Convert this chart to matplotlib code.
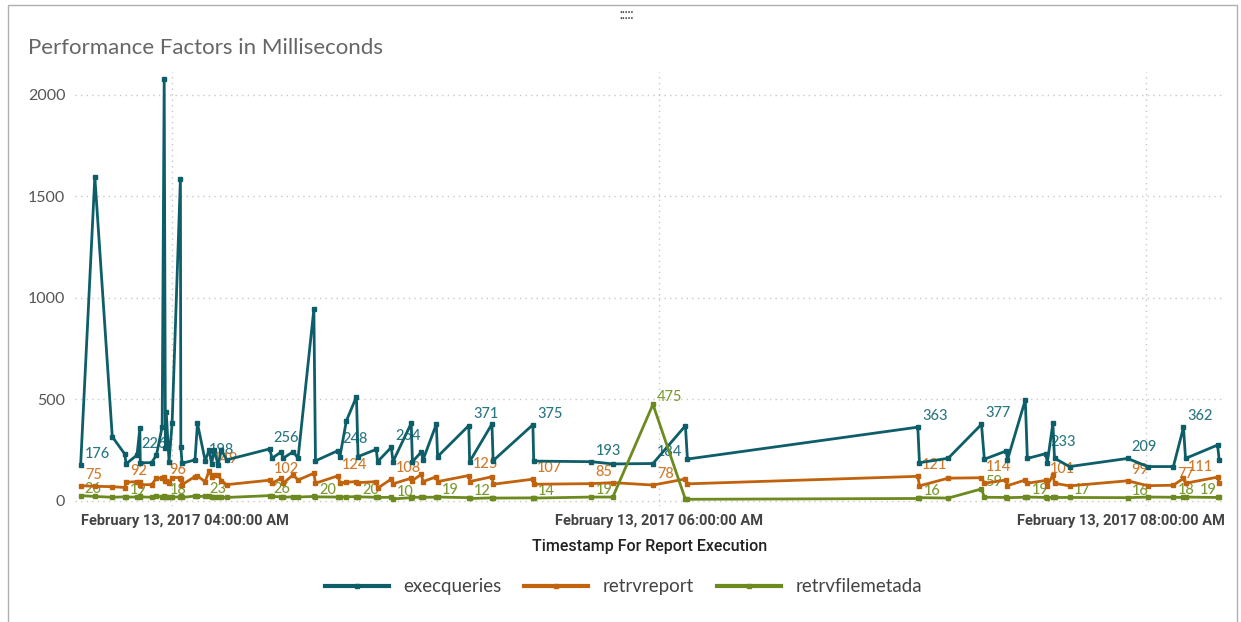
import datetime as dt
import matplotlib
matplotlib.use("Agg")
import matplotlib.pyplot as plt
import matplotlib.dates as mdates
from matplotlib.patches import Rectangle
from matplotlib.transforms import ScaledTranslation

plt.rcParams["font.family"] = ["Lato", "DejaVu Sans"]

# minutes after 04:00 on Feb 13, 2017
minutes = [-22.6, -19.1, -14.8, -11.7, -11.4, -8.7, -8.0, -7.9, -5.1, -3.9, -2.5, -2.0, -1.7, -1.5,
           -0.8, -0.05, 2.0, 2.1, 2.4, 5.6, 6.2, 8.1, 9.1, 9.7, 10.3, 11.3, 12.1, 13.4,
           24.0, 24.6, 26.9, 27.3, 29.8, 31.0, 34.9, 35.3, 40.9, 41.3, 42.9, 45.4, 45.8, 50.3,
           50.6, 54.0, 54.4, 58.9, 59.2, 61.4, 61.8, 65.1, 65.4, 73.1, 73.3, 78.8, 79.1, 88.9,
           89.1, 103.3, 108.6, 118.5, 126.5, 127.0,
           183.8, 184.2, 191.3, 199.5, 200.2, 205.6, 205.9, 210.3, 210.8, 215.4, 215.7, 217.1,
           217.5, 221.2, 235.5, 240.5, 246.8, 249.3, 249.8, 257.7, 258.1]

execqueries = [176, 1595, 316, 230, 182, 226, 357, 188, 188, 226, 365, 2078, 261, 439,
               193, 382, 1585, 267, 185, 202, 382, 198, 251, 180, 251, 177, 251, 202,
               256, 210, 242, 210, 242, 210, 943, 197, 248, 215, 393, 513, 218, 254,
               193, 264, 193, 382, 193, 241, 201, 378, 218, 371, 193, 378, 198, 375,
               196, 193, 182, 184, 370, 206,
               363, 188, 210, 377, 205, 246, 202, 497, 209, 233, 185, 383,
               210, 169, 209, 169, 169, 362, 209, 275, 201]

retrvreport = [75, 72, 70, 66, 92, 95, 95, 80, 80, 112, 112, 118, 96, 96,
               88, 115, 115, 110, 80, 120, 122, 95, 149, 120, 130, 128, 100, 80,
               102, 87, 112, 87, 128, 103, 136, 87, 124, 87, 92, 95, 90, 95,
               62, 108, 84, 112, 100, 131, 95, 119, 95, 125, 95, 119, 82, 107,
               82, 85, 90, 78, 108, 84,
               121, 74, 112, 114, 87, 103, 75, 103, 87, 101, 74, 128,
               87, 74, 99, 75, 77, 111, 87, 117, 90]

retrvfilemetada = [26, 22, 18, 20, 19, 19, 22, 20, 18, 24, 20, 22, 18, 18,
                   21, 18, 20, 22, 17, 24, 22, 23, 25, 19, 20, 21, 18, 17,
                   26, 22, 20, 18, 20, 19, 22, 20, 19, 18, 20, 21, 20, 18,
                   17, 18, 10, 16, 19, 17, 18, 18, 19, 16, 12, 15, 14, 15,
                   14, 19, 19, 475, 8, 8,
                   12, 16, 14, 59, 18, 17, 16, 18, 19, 17, 16, 18,
                   17, 17, 16, 19, 18, 17, 19, 17, 18]

# which points carry a value label
exec_labels = [0, 5, 21, 28, 36, 43, 51, 55, 57, 59, 62, 65, 71, 76, 79]
report_labels = [0, 4, 12, 22, 28, 36, 43, 51, 55, 57, 59, 62, 65, 71, 76, 78, 79]
meta_labels = [0, 4, 12, 21, 28, 35, 40, 44, 50, 52, 56, 57, 59, 63, 65, 70, 75, 76, 78, 80]

series_names = ["execqueries", "retrvreport", "retrvfilemetada"]
line_colors = ["#0d5e69", "#c1620d", "#6c8a1f"]
label_colors = ["#2b7781", "#cf7a2c", "#7d9b35"]

start = dt.datetime(2017, 2, 13, 4, 0, 0)
times = [start + dt.timedelta(minutes=m) for m in minutes]

fig = plt.figure(figsize=(12.41, 6.22), dpi=100)
ax = fig.add_axes([0.0604, 0.1865, 0.9266, 0.6975])

for vals, labs, name, lc, tc in zip([execqueries, retrvreport, retrvfilemetada],
                                    [exec_labels, report_labels, meta_labels],
                                    series_names, line_colors, label_colors):
    ax.plot(times, vals, color=lc, lw=2.0, marker="s", ms=3, label=name, zorder=3)
    for i in labs:
        # green labels sit right on their line; the last one a bit further right
        dx, dy = 3, 3
        if name == "retrvfilemetada":
            dy = 0
            if i == 80:
                dx = 10
        ax.annotate(str(vals[i]), (times[i], vals[i]), xytext=(dx, dy),
                    textcoords="offset points", ha="left", va="bottom",
                    color=tc, fontsize=10.5, fontweight="medium", zorder=2)

ax.set_xlim(start + dt.timedelta(minutes=-24), start + dt.timedelta(minutes=259.5))
ax.set_ylim(-25, 2110)
ax.set_yticks([0, 500, 1000, 1500, 2000])
ax.xaxis.set_major_locator(mdates.HourLocator(byhour=[4, 6, 8]))
ax.xaxis.set_major_formatter(mdates.DateFormatter("%B %d, %Y %I:%M:%S %p"))
ax.grid(True, linestyle=(0, (1, 3)), color="#c8c8c8", lw=1)
ax.set_axisbelow(True)
for s in ax.spines.values():
    s.set_visible(False)
ax.tick_params(axis="y", length=0, pad=7, labelsize=11.5, labelcolor="#555555")
ax.tick_params(axis="x", length=0, pad=6)
for lab in ax.get_xticklabels():
    lab.set_family(["Roboto", "DejaVu Sans"])
    lab.set_fontsize(10.5)
    lab.set_fontweight("bold")
    lab.set_color("#444444")

ax.set_xlabel("Timestamp For Report Execution", fontsize=11.5, color="#222222",
              family=["Roboto", "DejaVu Sans"], fontweight="medium", labelpad=8)

fig.text(28 / 1241, 1 - 48 / 622, "Performance Factors in Milliseconds",
         fontsize=16, color="#666666", va="center", ha="left")

leg = ax.legend(loc="upper center", bbox_to_anchor=(0.477, -0.128), ncol=3, frameon=False,
                fontsize=13.5, handlelength=3.4, handletextpad=0.8, columnspacing=1.2,
                labelcolor="#444444")
for h in leg.legend_handles:
    h.set_linewidth(3)

# card border and drag handle
fig.patches.append(Rectangle((8 / 1241, -0.01), 1229 / 1241, 1 - 5 / 622 + 0.01,
                             transform=fig.transFigure, fill=False, ec="#b0b0b0", lw=1))
fig.text(0.505, 1 - 12 / 622, "\u2022\u2022\u2022\u2022\u2022", fontsize=3.5, color="#555555",
         ha="center", va="center")
fig.text(0.505, 1 - 18 / 622, "\u2022\u2022\u2022\u2022\u2022", fontsize=3.5, color="#555555",
         ha="center", va="center")

# keep the outer tick labels inside the plot area, like the original
fig.canvas.draw()
renderer = fig.canvas.get_renderer()
abox = ax.get_window_extent(renderer)
for lab in ax.get_xticklabels():
    bb = lab.get_window_extent(renderer)
    shift = 0
    if bb.x0 < abox.x0 + 6:
        shift = abox.x0 + 6 - bb.x0
    elif bb.x1 > abox.x1:
        shift = abox.x1 - bb.x1
    if shift:
        lab.set_transform(lab.get_transform() + ScaledTranslation(shift / fig.dpi, 0, fig.dpi_scale_trans))

fig.savefig("out.png", dpi=100)
